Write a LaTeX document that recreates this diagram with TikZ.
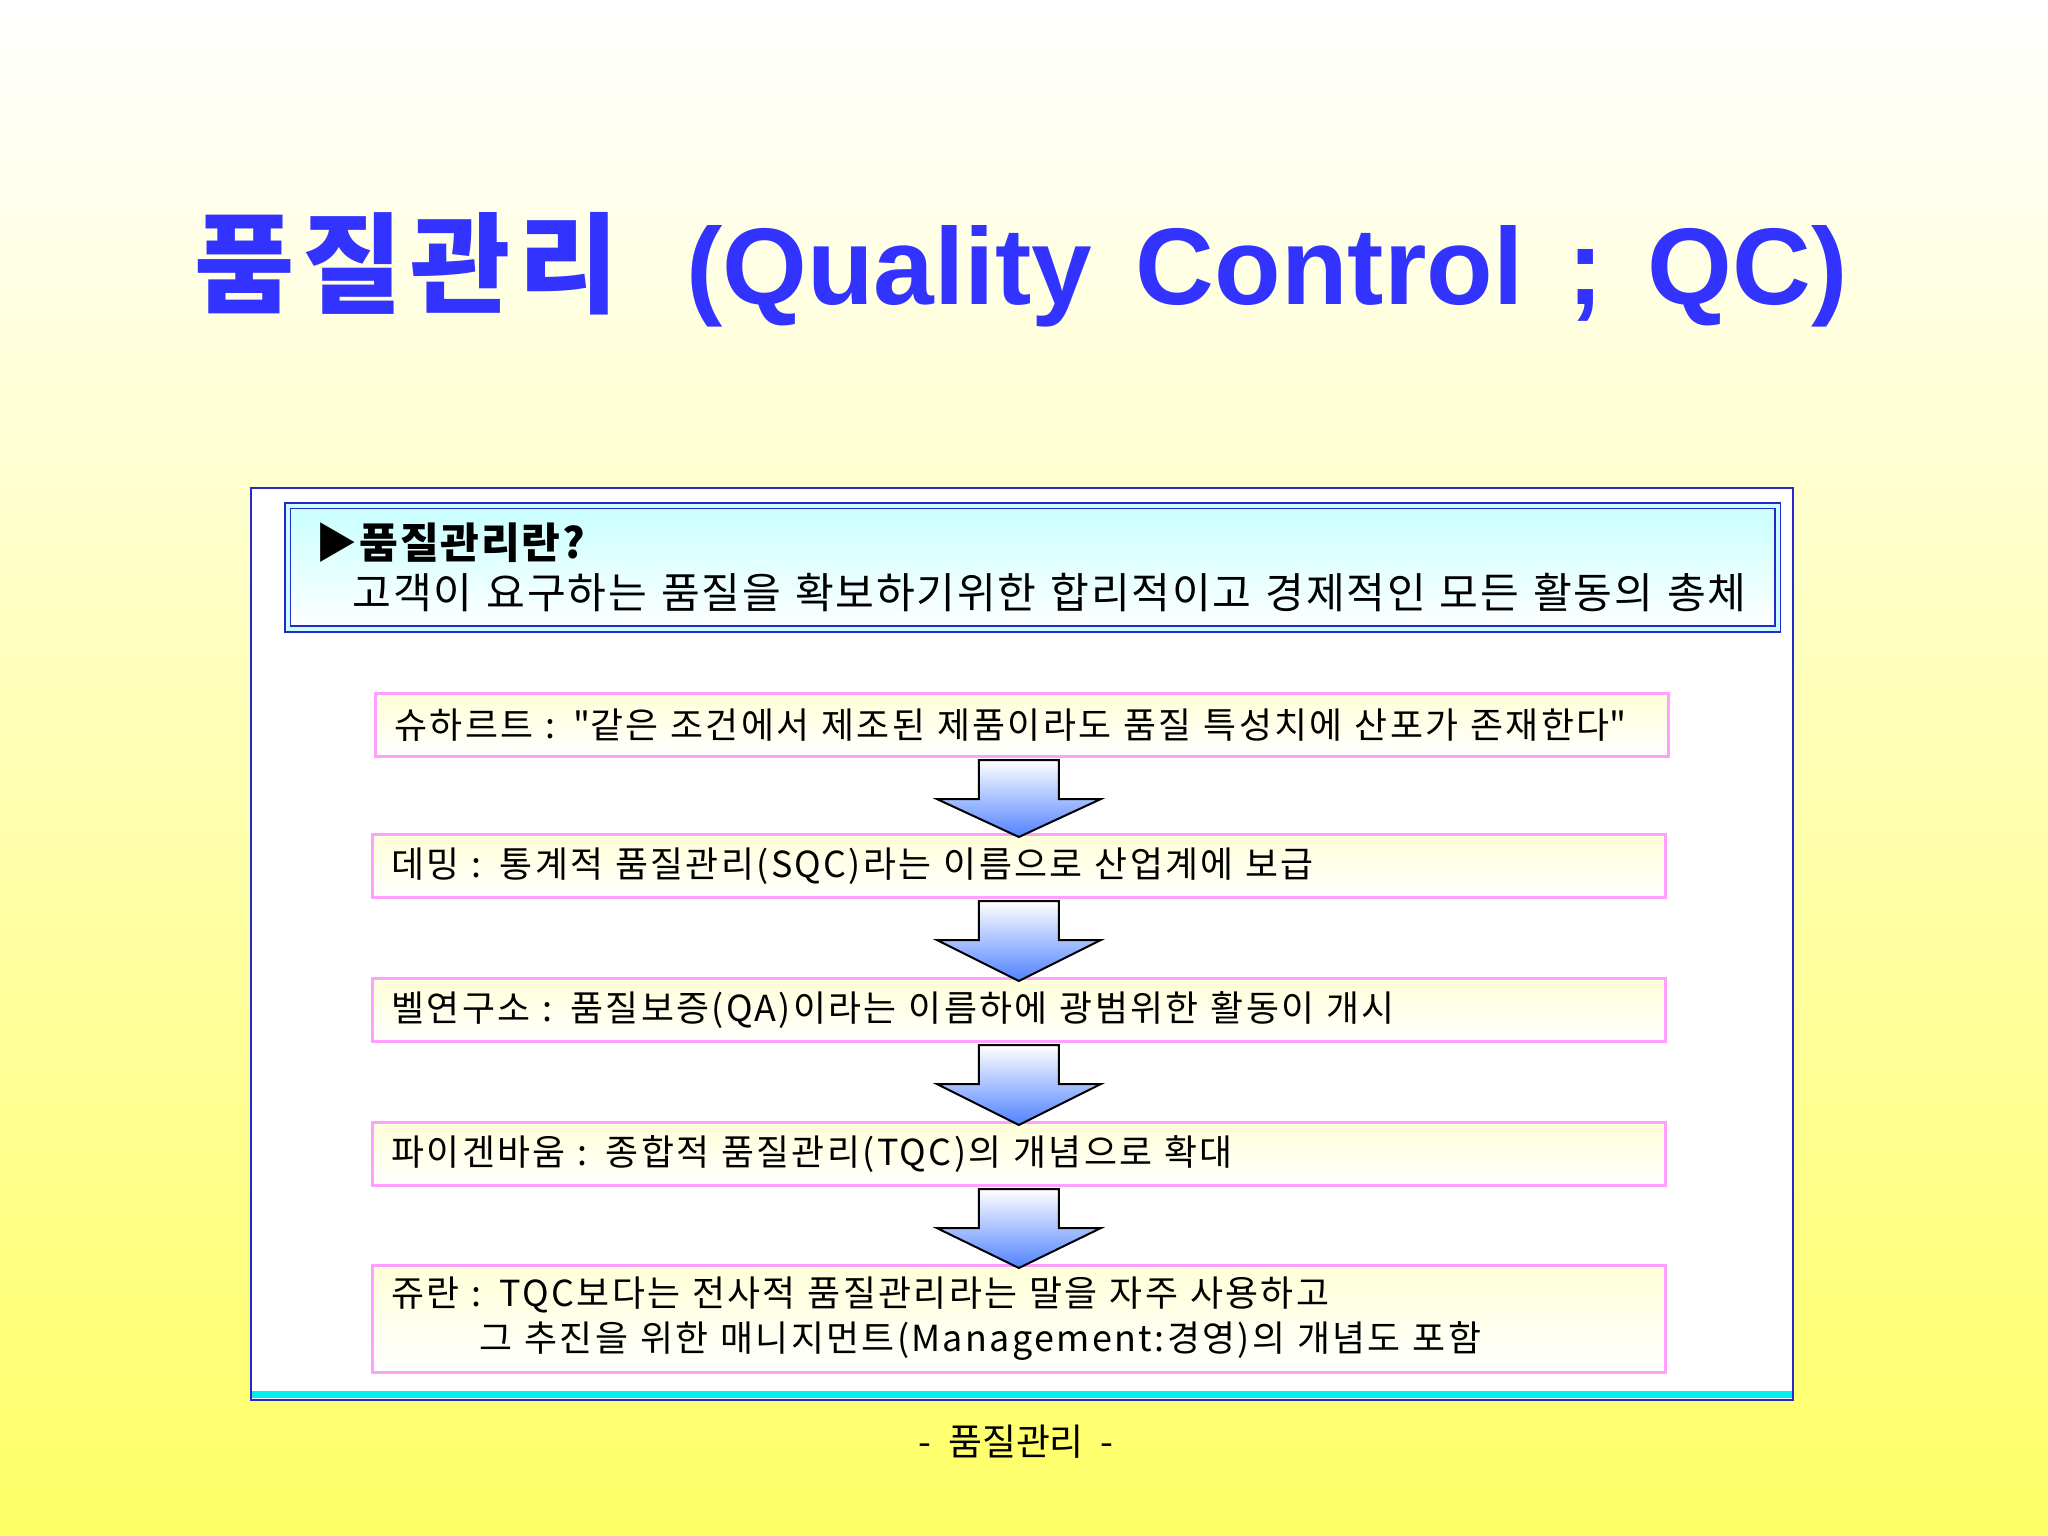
\documentclass[tikz,border=0pt]{standalone}
\usepackage{fontspec}
\setmainfont{Noto Sans CJK KR}
\newfontfamily\latinbold[WordSpace=1.45]{Liberation Sans}
\usetikzlibrary{calc}

\definecolor{titleblue}{RGB}{51,51,255}
\definecolor{frameblue}{RGB}{40,40,200}
\definecolor{pinkline}{RGB}{255,160,255}
\definecolor{boxyellow}{RGB}{255,255,215}
\definecolor{arrowblue}{RGB}{80,130,255}
\definecolor{lightcyan}{RGB}{200,255,255}
\definecolor{bgyellow}{RGB}{255,255,102}
\definecolor{stripecyan}{RGB}{0,240,240}

\tikzset{
	stepbox/.style={draw=pinkline, line width=0.03cm, top color=boxyellow, bottom color=white,
		text width=12.54cm, inner xsep=0.19cm, inner ysep=0pt, minimum height=0.63cm,
		align=left, anchor=north west, font=\fontsize{10.2}{12.8}\selectfont\addfontfeature{LetterSpace=6.5}},
	downarrow/.style={draw=black, line width=0.02cm, top color=white, bottom color=arrowblue, line join=miter}
}

\begin{document}
\begin{tikzpicture}[x=0.01cm, y=-0.01cm]
				\useasboundingbox (0,0) rectangle (2048,1536);
				%background
				\shade[top color=white, bottom color=bgyellow] (0,0) rectangle (2048,1536);
				
				%title
				\node[text=titleblue, font=\fontsize{31}{36}\selectfont\bfseries] (title) at (1021,270)
					{{\addfontfeature{LetterSpace=7}품질관리}\hspace{0.62em}{\latinbold (Quality Control ; QC)}};
				
				%panel
				\draw[draw=frameblue, line width=0.02cm, fill=white] (251,488) rectangle (1793,1400);
				\fill[stripecyan] (252,1391) rectangle (1792,1398);
				
				%definition
				\node[draw=frameblue, double=lightcyan, double distance=0.035cm, line width=0.018cm,
					top color=lightcyan, bottom color=white, anchor=north west, text width=14.33cm,
					inner xsep=0.28cm, minimum height=1.23cm, align=left,
					font=\fontsize{12}{14.2}\selectfont\addfontfeature{LetterSpace=4}] (what) at (287,505)
					{{\bfseries ▶품질관리란?}\\\hspace*{0.37cm}고객이 요구하는 품질을 확보하기위한 합리적이고 경제적인 모든 활동의 총체};
				
				%history
				\node[stepbox] (b1) at (374,692) {슈하르트 : \textquotedbl 같은 조건에서 제조된 제품이라도 품질 특성치에 산포가 존재한다\textquotedbl};
				\node[stepbox] (b2) at (371,833) {데밍 : 통계적 품질관리(SQC)라는 이름으로 산업계에 보급};
				\node[stepbox] (b3) at (371,977) {벨연구소 : 품질보증(QA)이라는 이름하에 광범위한 활동이 개시};
				\node[stepbox] (b4) at (371,1121) {파이겐바움 : 종합적 품질관리(TQC)의 개념으로 확대};
				\node[stepbox, minimum height=1.07cm] (b5) at (371,1264)
					{쥬란 : TQC보다는 전사적 품질관리라는 말을 자주 사용하고\\\hspace*{0.88cm}그 추진을 위한 매니지먼트(Management:경영)의 개념도 포함};
				
				%arrows
				\foreach \a/\b in {b1/b2, b2/b3, b3/b4, b4/b5}{
					\draw[downarrow] ($(\b.north |- \a.south)+(-40,2)$) -- ($(\b.north |- \a.south)+(-40,41)$)
						-- ($(\b.north |- \a.south)+(-82,41)$) -- ($(\b.north)+(0,4)$)
						-- ($(\b.north |- \a.south)+(82,41)$) -- ($(\b.north |- \a.south)+(40,41)$)
						-- ($(\b.north |- \a.south)+(40,2)$) -- cycle;
				}
				
				\node[font=\fontsize{10.5}{12}\selectfont] (footer) at (1016,1442) {-\ \ 품질관리\ \ -};
\end{tikzpicture}
\end{document}
